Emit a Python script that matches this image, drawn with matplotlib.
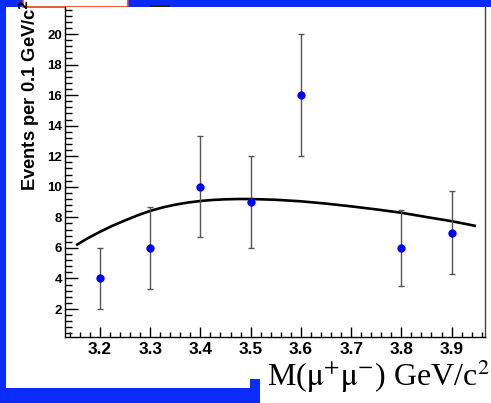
import matplotlib
matplotlib.use("Agg")
import matplotlib.pyplot as plt
from matplotlib.patches import Rectangle
from matplotlib.ticker import MultipleLocator

# data
mass = [3.2, 3.3, 3.4, 3.5, 3.6, 3.8, 3.9]
counts = [4, 6, 10, 9, 16, 6, 7]
err_lo = [2.0, 2.7, 3.3, 3.0, 4.0, 2.5, 2.7]
err_hi = [2.0, 2.7, 3.3, 3.0, 4.0, 2.5, 2.7]

fit_mass = [3.155, 3.175, 3.2, 3.225, 3.25, 3.275, 3.3, 3.325, 3.35, 3.375, 3.4,
            3.425, 3.45, 3.475, 3.5, 3.55, 3.6, 3.65, 3.7, 3.75, 3.8, 3.85, 3.9, 3.946]
fit_counts = [6.22, 6.62, 7.05, 7.45, 7.8, 8.13, 8.42, 8.65, 8.83, 8.97, 9.07,
              9.14, 9.18, 9.2, 9.2, 9.15, 9.05, 8.9, 8.72, 8.52, 8.3, 8.02, 7.75, 7.45]

y_ticks = [2, 4, 6, 8, 10, 12, 14, 16, 18, 20]

W, H = 491, 403
BLUE = "#0b2bf8"


def fx(px):
    return px / W


def fy(py):
    return 1 - py / H


fig = plt.figure(figsize=(W / 100, H / 100), dpi=100, facecolor=BLUE)

# white panel and the odd bits of the slide around it
fig.patches.append(Rectangle((fx(6), fy(388)), fx(485), 381 / H, transform=fig.transFigure,
                             facecolor="white", edgecolor="none", zorder=0))
fig.patches.append(Rectangle((fx(260), 0), fx(231), 25 / H, transform=fig.transFigure,
                             facecolor="white", edgecolor="none", zorder=0))
fig.patches.append(Rectangle((fx(250), 0), fx(10), 24 / H, transform=fig.transFigure,
                             facecolor=BLUE, edgecolor="none", zorder=1))
fig.patches.append(Rectangle((fx(23), fy(6.5)), fx(105), 7 / H, transform=fig.transFigure,
                             facecolor="white", edgecolor="#f03a1a", lw=1.2, zorder=2))
fig.patches.append(Rectangle((fx(150), fy(7)), fx(20), 2 / H, transform=fig.transFigure,
                             facecolor="#222222", edgecolor="none", zorder=2))

ax = fig.add_axes([fx(65), fy(336.5), fx(420), 329.5 / H])
ax.set_zorder(5)
ax.set_facecolor("white")

ax.plot(fit_mass, fit_counts, color="black", lw=1.9, zorder=2, solid_joinstyle="round")
ax.errorbar(mass, counts, yerr=[err_lo, err_hi], fmt="o", color="#0000ff", ms=6,
            mec="none", ecolor="#555555", elinewidth=1, capsize=2, capthick=1, zorder=3)

ax.set_xlim(3.1305, 3.9665)
ax.set_ylim(0.2, 21.77)

ax.xaxis.set_major_locator(MultipleLocator(0.1))
ax.xaxis.set_minor_locator(MultipleLocator(0.02))
ax.yaxis.set_minor_locator(MultipleLocator(0.4))
ax.set_yticks(y_ticks)
ax.set_yticklabels([str(v) for v in y_ticks])
ax.tick_params(axis="x", which="major", direction="in", length=7.5, width=1, pad=4)
ax.tick_params(axis="x", which="minor", direction="in", length=3.7, width=1)
ax.tick_params(axis="y", which="major", direction="in", length=9.5, width=1, pad=2)
ax.tick_params(axis="y", which="minor", direction="in", length=5, width=1)
for lab in ax.get_xticklabels():
    lab.set_fontfamily("Liberation Sans")
    lab.set_fontweight("bold")
    lab.set_fontsize(12.4)
for lab in ax.get_yticklabels():
    lab.set_fontfamily("Liberation Sans")
    lab.set_fontweight("bold")
    lab.set_fontsize(9.5)
ax.spines["top"].set_visible(False)
for s in ["left", "bottom", "right"]:
    ax.spines[s].set_linewidth(1)
ax.spines["right"].set_color("#444444")

fig.text(fx(30), fy(-1), "Events per 0.1 GeV/c$^{\\mathbf{2}}$", rotation=90, ha="center", va="top",
         fontfamily="Liberation Sans", fontweight="bold", fontsize=13.2)

fig.text(fx(476), fy(35), r"L$_{\mathbf{effective}}$=139 pb$^{\mathbf{-1}}$", ha="right", va="baseline",
         fontfamily="Liberation Sans", fontweight="bold", fontsize=11)

fig.text(fx(362), fy(110), r"$\mathrm{\mu^{+}\mu^{-}}$", ha="left", va="baseline",
         fontsize=31, math_fontfamily="stix")

fig.text(fx(490), fy(386), r"M($\mathrm{\mu^{+}\mu^{-}}$) GeV/c$^{2}$", ha="right", va="baseline",
         fontfamily="Liberation Serif", fontsize=23, math_fontfamily="stix")

fig.savefig("out.png", dpi=100, facecolor=BLUE)
